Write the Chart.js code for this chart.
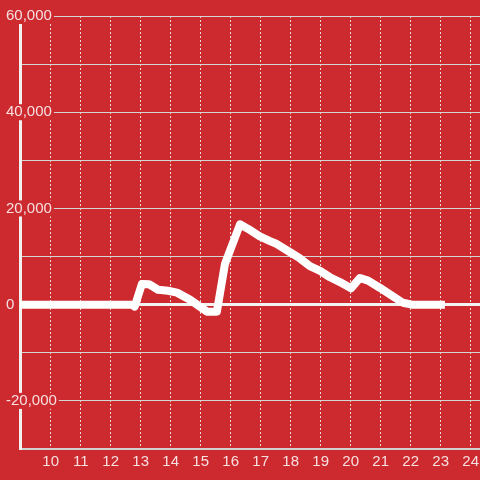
<!DOCTYPE html>
<html>
<head>
<meta charset="utf-8">
<script src="https://cdn.jsdelivr.net/npm/chart.js@4/dist/chart.umd.min.js"></script>
<style>
  html, body { margin: 0; padding: 0; background: #cc2a2f; }
  #wrap { width: 480px; height: 480px; position: relative; }
</style>
</head>
<body>
<div id="wrap"><canvas id="chart"></canvas></div>
<script>
// hours of the day (decimal) and the values
const hours = [8.5, 12.70, 12.80, 13.04, 13.28, 13.58, 13.91, 14.21, 14.64, 15.21, 15.54, 15.81,
  16.31, 16.57, 16.97, 17.31, 17.54, 17.98, 18.31, 18.64, 18.98, 19.31, 19.64, 20.01,
  20.31, 20.58, 20.98, 21.41, 21.74, 22.04, 23.14];
const values = [0, 0, -400, 4300, 4250, 3100, 2900, 2500, 1050, -1450, -1450, 8500,
  16700, 15800, 14200, 13200, 12600, 10900, 9600, 8000, 7000, 5700, 4700, 3400,
  5550, 5000, 3470, 1730, 400, 0, 0];

const hourTicks = [10, 11, 12, 13, 14, 15, 16, 17, 18, 19, 20, 21, 22, 23, 24];
const yTicks = [-30000, -20000, -10000, 0, 10000, 20000, 30000, 40000, 50000, 60000];
const yLabels = [-20000, 0, 20000, 40000, 60000];

const bg = '#cc2a2f';
const labelColor = 'rgba(255,255,255,0.85)';
const font = { family: 'Liberation Sans', size: 15 };

const points = hours.map((h, i) => ({ x: h, y: values[i] }));

new Chart(document.getElementById('chart'), {
  type: 'line',
  data: {
    datasets: [{
      data: points,
      borderColor: '#ffffff',
      borderWidth: 8,
      borderJoinStyle: 'round',
      pointRadius: 0,
      tension: 0,
      fill: false
    }]
  },
  options: {
    responsive: true,
    maintainAspectRatio: false,
    animation: false,
    layout: { padding: { left: 20, top: 16, right: 0, bottom: 9 } },
    plugins: { legend: { display: false }, tooltip: { enabled: false } },
    scales: {
      x: {
        type: 'linear',
        min: 8.977,
        max: 24.31,
        afterBuildTicks: scale => { scale.ticks = hourTicks.map(v => ({ value: v })); },
        ticks: { color: labelColor, font, padding: 0, maxRotation: 0, autoSkip: false,
          callback: v => String(v) },
        // invisible tick marks give the label gap without the edge padding
        grid: { color: 'rgba(235,235,235,0.9)', lineWidth: 1, drawTicks: true,
          tickLength: 4, tickColor: 'rgba(0,0,0,0)' },
        // in v4 border.dash dashes the grid lines
        border: { color: '#d0d0d0', width: 2, dash: [2, 2] }
      },
      y: {
        min: -30000,
        max: 60000,
        afterBuildTicks: scale => { scale.ticks = yTicks.map(v => ({ value: v })); },
        afterFit: scale => { scale.width = 0; },
        ticks: {
          color: labelColor,
          font: { family: 'Liberation Sans', size: 15, lineHeight: 1 },
          mirror: true,
          padding: -14,
          autoSkip: false,
          showLabelBackdrop: true,
          backdropColor: bg,
          backdropPadding: { top: 0.5, bottom: 0.5, left: 2, right: 2 },
          callback: v => yLabels.includes(v) ? v.toLocaleString('en-US') : ''
        },
        grid: {
          drawTicks: false,
          color: ctx => ctx.tick && ctx.tick.value === 0 ? '#f2f2f2' : '#d4d4d4',
          lineWidth: ctx => ctx.tick && ctx.tick.value === 0 ? 3 : 1
        },
        border: { color: '#f0f0f0', width: 3 }
      }
    }
  }
});
</script>
</body>
</html>
